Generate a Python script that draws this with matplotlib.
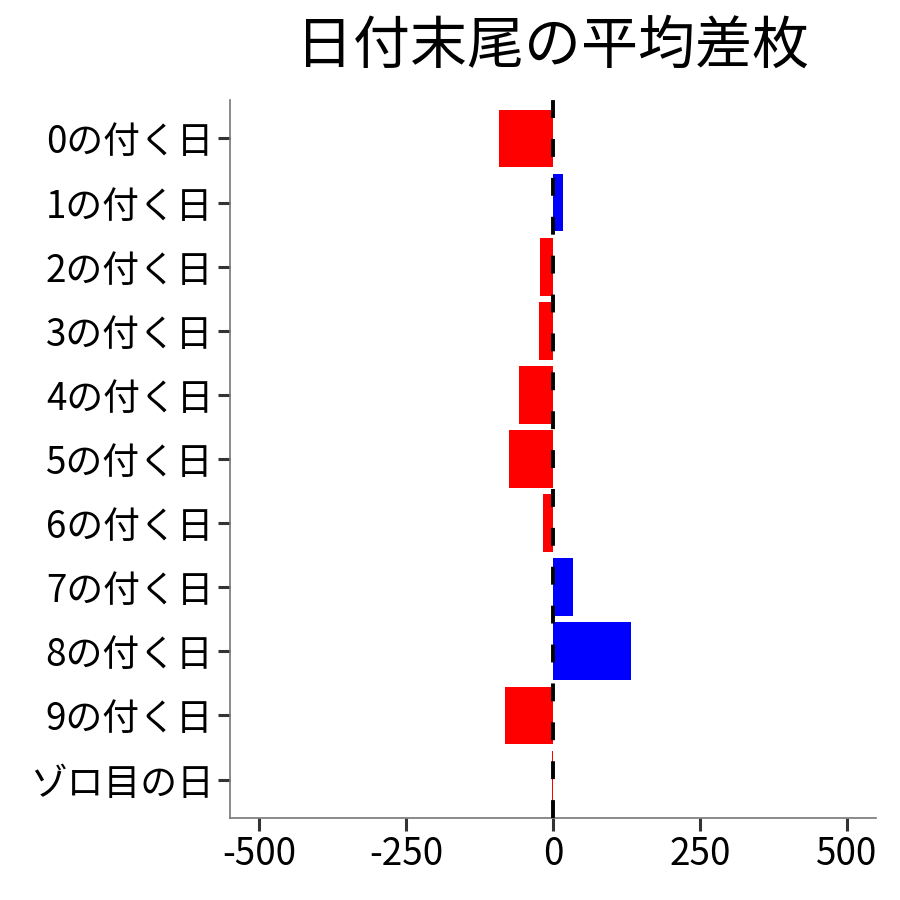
import numpy as np
import matplotlib
matplotlib.use("Agg")
import matplotlib.pyplot as plt

plt.rcParams['font.family'] = ['Noto Sans CJK JP', 'DejaVu Sans']

# data
labels = ["0の付く日", "1の付く日", "2の付く日", "3の付く日", "4の付く日",
          "5の付く日", "6の付く日", "7の付く日", "8の付く日", "9の付く日", "ゾロ目の日"]
values = [-92, 17, -22, -24, -58, -75, -17, 34, 133, -82, -1.5]
title = "日付末尾の平均差枚"
xticks = [-500, -250, 0, 250, 500]

fig = plt.figure(figsize=(9, 9), dpi=100)
ax = fig.add_axes([230 / 900, 82 / 900, 646 / 900, 718 / 900])

ypos = np.arange(len(labels))
colors = ["blue" if v > 0 else "red" for v in values]
ax.barh(ypos, values, height=0.9, color=colors, zorder=2)
ax.axvline(0, color="black", linestyle=(0, (4.6, 5.4)), linewidth=2.8, zorder=3)

ax.set_xlim(-550, 550)
ax.set_ylim(len(labels) - 0.4, -0.6)
ax.set_yticks(ypos)
ax.set_yticklabels(labels, fontsize=26.5)
ax.set_xticks(xticks)
ax.set_xticklabels([str(t) for t in xticks], fontsize=26.5)

for s in ["top", "right"]:
    ax.spines[s].set_visible(False)
for s in ["left", "bottom"]:
    ax.spines[s].set_color("#777777")
    ax.spines[s].set_linewidth(1.2)
ax.tick_params(length=9, width=2.2, color="#333333", labelcolor="black", pad=3)

fig.text((230 + 876) / 2 / 900, 1 - 46 / 900, title, fontsize=41,
         ha="center", va="center")

fig.savefig("out.png", dpi=100)
